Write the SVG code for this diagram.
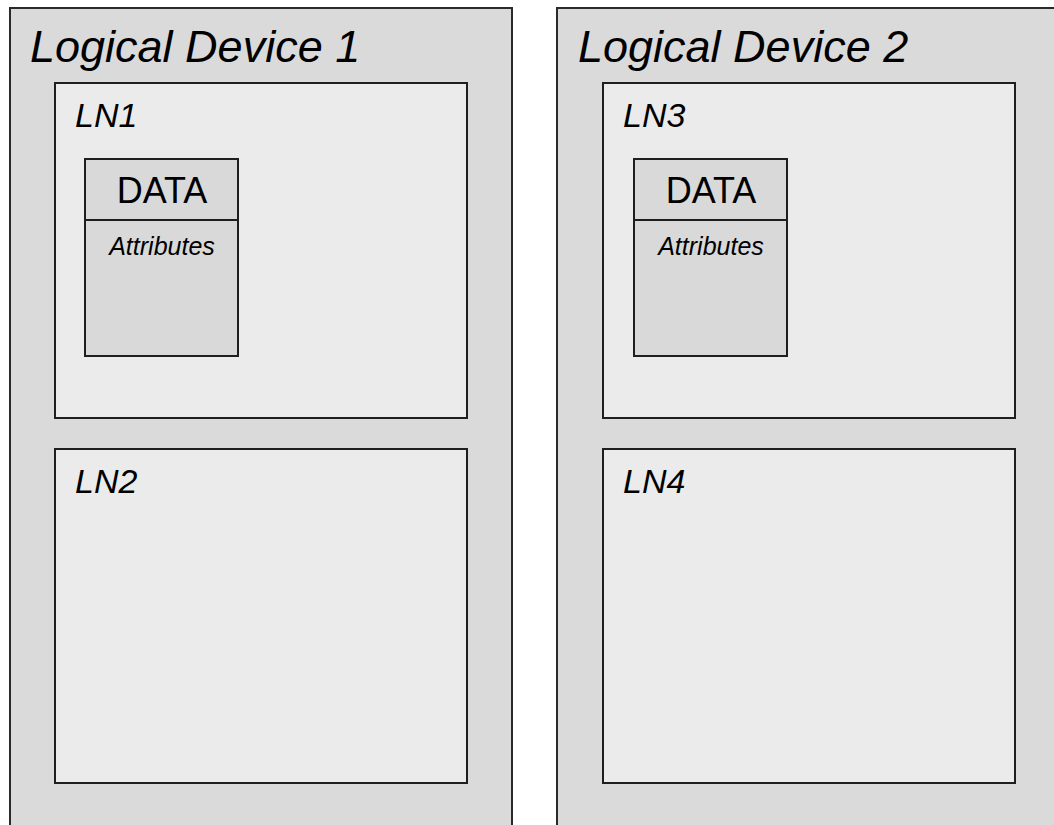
<svg xmlns="http://www.w3.org/2000/svg" width="1054" height="825" viewBox="0 0 1054 825">
<style>
.devf{fill:#dadada;stroke:none}
.devs{fill:none;stroke:#2a2a2a;stroke-width:2}
.ln{fill:#ebebeb;stroke:#1e1e1e;stroke-width:2}
.data{fill:#d9d9d9;stroke:#1e1e1e;stroke-width:2}
text{font-family:"Liberation Sans",Arial,sans-serif;fill:#000}
.t1{font-size:45px;font-style:italic}
.t2{font-size:34px;font-style:italic}
.t3{font-size:36px;text-anchor:middle}
.t4{font-size:25px;font-style:italic;text-anchor:middle}
</style>
<rect width="1054" height="825" fill="#ffffff"/>
<g id="ld1">
<rect class="devf" x="10" y="8" width="502" height="820"/>
<path class="devs" d="M10,830 V8 H512 V830"/>
<text class="t1" x="30" y="62">Logical Device 1</text>
</g>
<g id="ld2">
<rect class="devf" x="557" y="8" width="500" height="820"/>
<path class="devs" d="M557,830 V8 H1060"/>
<text class="t1" x="578" y="62">Logical Device 2</text>
</g>
<g id="ln1">
<rect class="ln" x="55" y="83" width="412" height="335"/>
<text class="t2" x="75" y="127">LN1</text>
</g>
<g id="data1">
<rect class="data" x="85" y="159" width="153" height="197"/>
<line class="data" x1="85" y1="220" x2="238" y2="220"/>
<text class="t3" x="162" y="203">DATA</text>
<text class="t4" x="162" y="255">Attributes</text>
</g>
<g id="ln2">
<rect class="ln" x="55" y="449" width="412" height="334"/>
<text class="t2" x="75" y="493">LN2</text>
</g>
<g id="ln3">
<rect class="ln" x="603" y="83" width="412" height="335"/>
<text class="t2" x="623" y="127">LN3</text>
</g>
<g id="data2">
<rect class="data" x="634" y="159" width="153" height="197"/>
<line class="data" x1="634" y1="220" x2="787" y2="220"/>
<text class="t3" x="711" y="203">DATA</text>
<text class="t4" x="711" y="255">Attributes</text>
</g>
<g id="ln4">
<rect class="ln" x="603" y="449" width="412" height="334"/>
<text class="t2" x="623" y="493">LN4</text>
</g>
<g id="connectors"></g>
</svg>
